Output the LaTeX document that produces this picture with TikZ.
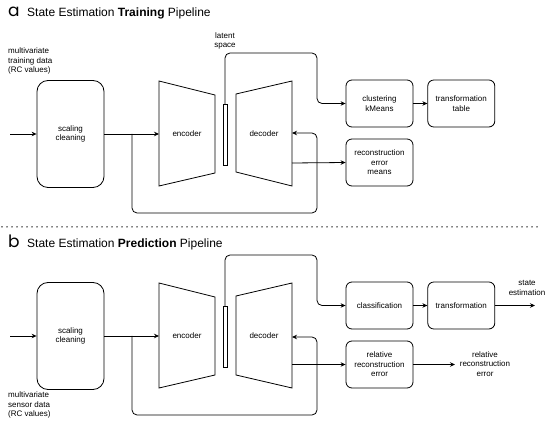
\documentclass[tikz,border=0pt]{standalone}
\usepackage{fontspec}
\setmainfont{Liberation Sans}
\newfontfamily\tagfont{Poppins}
\usetikzlibrary{arrows.meta,positioning}
\tikzset{
  >={Stealth[length=5pt,width=4.5pt]},
  % kastar
  blk/.style={draw,line width=0.8pt,rounded corners=6pt,minimum width=67pt,
              minimum height=47pt,align=center,inner sep=1pt},
  prep/.style={blk,rounded corners=11pt,minimum height=107pt},
  net/.style={draw,line width=0.8pt},
  lbl/.style={align=center,inner sep=0pt},
  % linjer
  flow/.style={->,line width=0.8pt},
  wire/.style={->,line width=0.8pt,rounded corners=5pt},
  sep/.style={line width=1.5pt,line cap=round,dash pattern=on 0pt off 5pt,black},
  ttl/.style={anchor=base west,inner sep=0pt,font=\fontsize{12}{14}\selectfont},
  tag/.style={anchor=base west,inner sep=0pt,font=\tagfont\fontsize{17}{18}\selectfont},
}

\begin{document}
\begin{tikzpicture}[x=1pt,y=-1pt,every node/.append style={font=\fontsize{8}{9.5}\selectfont}]
  \useasboundingbox (0,0) rectangle (550,422);
  % a: training
  \node[tag] (taga) at (8,17) {a};
  \node[ttl] (tita) at (27,17) {State Estimation \textbf{Training} Pipeline};
  \node[lbl,align=left,anchor=west] (ina) at (8,61) {multivariate\\training data\\(RC values)};
  \coordinate (srca) at (10,134);
  \node[prep] (sca) at (70.5,134) {scaling\\cleaning};
  \draw[net] (159,81) -- (215,95) -- (215,173) -- (159,186) -- cycle;
  \node (enca) at (187,134) {encoder};
  \draw[net] (236,94) -- (292,81) -- (292,186) -- (236,172) -- cycle;
  \node (deca) at (264,134) {decoder};
  \draw[net] (223,104) rectangle (227,165);
  \node[lbl] (lsp) at (225,41) {latent\\space};
  \coordinate (lata) at (225,104);
  \coordinate (encina) at (159,134);
  \coordinate (decina) at (292,133);
  \coordinate (decouta) at (292,163);
  \coordinate (bra) at (132,134);
  \node[blk] (clu) at (379.5,103.5) {clustering\\kMeans};
  \node[blk,right=14pt of clu] (tab) {transformation\\table};
  \node[blk] (rec) at (379.5,162.5) {reconstruction\\error\\means};
  \draw[flow] (srca) -- (sca.west);
  \draw[flow] (sca.east) -- (encina);
  \draw[wire] (bra) -- (132,213) -- (317,213) -- (317,133) -- (decina);
  \draw[wire] (lata) -- (225,53) -- (317,53) |- (clu.west);
  \draw[flow] (clu) -- (tab);
  \draw[flow] (decouta) -- (rec.west);

  \draw[sep] (2,227) -- (540,227);

  % b: prediction
  \node[tag] (tagb) at (8,248) {b};
  \node[ttl] (titb) at (27,248) {State Estimation \textbf{Prediction} Pipeline};
  \node[lbl,align=left,anchor=west] (inb) at (8,405) {multivariate\\sensor data\\(RC values)};
  \coordinate (srcb) at (10,336);
  \node[prep] (scb) at (70.5,336) {scaling\\cleaning};
  \draw[net] (159,283) -- (215,297) -- (215,375) -- (159,388) -- cycle;
  \node (encb) at (187,336) {encoder};
  \draw[net] (236,296) -- (292,283) -- (292,388) -- (236,375) -- cycle;
  \node (decb) at (264,336) {decoder};
  \draw[net] (223,306) rectangle (227,367);
  \coordinate (latb) at (225,306);
  \coordinate (encinb) at (159,336);
  \coordinate (decinb) at (292,337);
  \coordinate (decoutb) at (292,364.5);
  \coordinate (brb) at (132,336);
  \node[blk] (cls) at (379.5,305.5) {classification};
  \node[blk,right=14pt of cls] (trf) {transformation};
  \node[blk] (rel) at (379.5,364.5) {relative\\reconstruction\\error};
  \coordinate (estb) at (535,305.5);
  \coordinate (relb) at (455,364.5);
  \node[lbl] (est) at (527,288) {state\\estimation};
  \node[lbl] (relout) at (485,364) {relative\\reconstruction\\error};
  \draw[flow] (srcb) -- (scb.west);
  \draw[flow] (scb.east) -- (encinb);
  \draw[wire] (brb) -- (132,415) -- (317,415) -- (317,337) -- (decinb);
  \draw[wire] (latb) -- (225,255) -- (317,255) |- (cls.west);
  \draw[flow] (cls) -- (trf);
  \draw[flow] (trf) -- (estb);
  \draw[flow] (decoutb) -- (rel.west);
  \draw[flow] (rel) -- (relb);
\end{tikzpicture}
\end{document}
